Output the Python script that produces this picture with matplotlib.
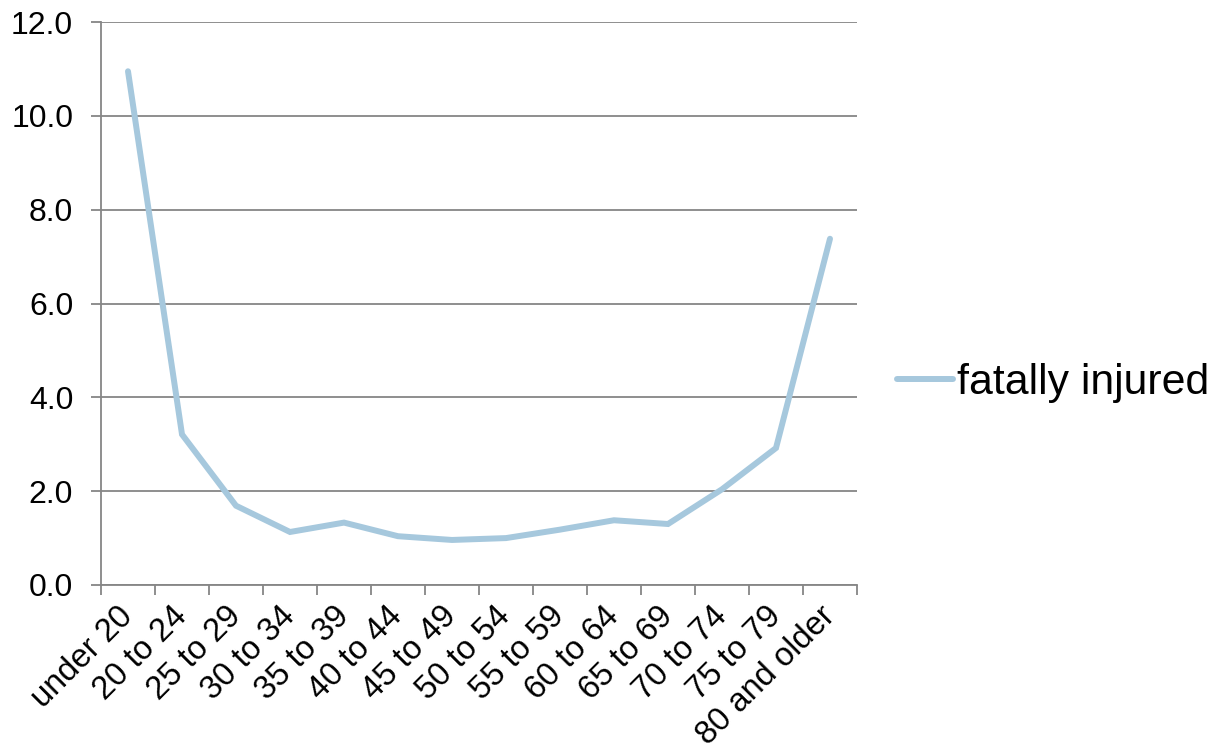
import numpy as np
import matplotlib
matplotlib.use("Agg")
import matplotlib.pyplot as plt

plt.rcParams['font.family'] = ['Liberation Sans', 'DejaVu Sans']

# age groups and rate of fatally injured drivers
age_groups = ["under 20", "20 to 24", "25 to 29", "30 to 34", "35 to 39",
              "40 to 44", "45 to 49", "50 to 54", "55 to 59", "60 to 64",
              "65 to 69", "70 to 74", "75 to 79", "80 and older"]
fatally_injured = [10.95, 3.21, 1.69, 1.13, 1.33, 1.04, 0.96, 1.0,
                   1.18, 1.38, 1.30, 2.04, 2.92, 7.38]

line_color = "#a6c8dd"
grid_color = "#868686"

fig = plt.figure(figsize=(12.11, 7.5), dpi=100)
ax = fig.add_axes([101 / 1211, 1 - 585 / 750, 756 / 1211, 563 / 750])

x = np.arange(len(age_groups))
ax.plot(x, fatally_injured, color=line_color, lw=4.3, label="fatally injured",
        solid_capstyle="round", solid_joinstyle="miter")

ax.set_xlim(-0.5, len(age_groups) - 0.5)
ax.set_ylim(0, 12)

# y axis with gridlines
ax.set_yticks(np.arange(0, 12.1, 2))
ax.set_yticklabels([f"{v:.1f}" for v in np.arange(0, 12.1, 2)])
ax.yaxis.grid(True, color=grid_color, lw=1.3)
ax.set_axisbelow(True)

# category labels centered, tick marks between categories
ax.set_xticks(x)
ax.set_xticklabels(age_groups, rotation=45, ha="right", va="center",
                   rotation_mode="anchor")
ax.set_xticks(np.arange(-0.5, len(age_groups)), minor=True)
ax.tick_params(axis="x", which="major", length=0, pad=19, labelsize=23.5)
ax.tick_params(axis="x", which="minor", length=7, width=1.3, color=grid_color)
ax.tick_params(axis="y", length=7, width=1.3, color=grid_color, pad=13,
               labelsize=23)

for side in ["top", "right"]:
    ax.spines[side].set_visible(False)
for side in ["left", "bottom"]:
    ax.spines[side].set_color(grid_color)
    ax.spines[side].set_linewidth(1.3)

fig.legend(loc="center left", bbox_to_anchor=(897 / 1211, 1 - 383 / 750),
           frameon=False, fontsize=30.8, handlelength=1.3, handletextpad=0.1,
           borderpad=0, borderaxespad=0)

fig.savefig("out.png", dpi=100)
